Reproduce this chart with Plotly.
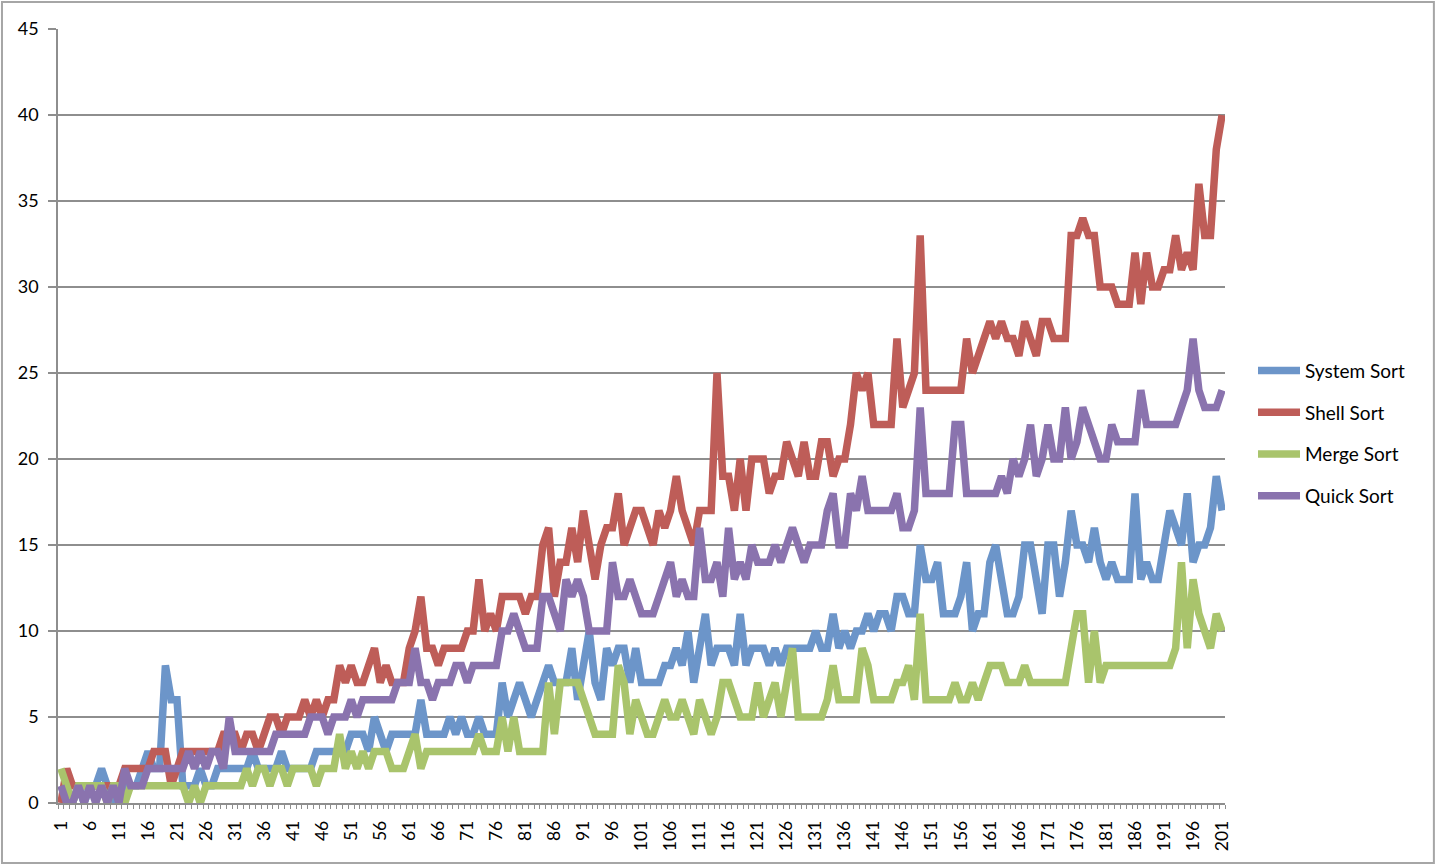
import plotly.graph_objects as go

categories = list(range(1, 202))

system_sort = [
    0, 0, 0, 1, 0, 1, 1, 2, 1, 0,
    0, 1, 1, 1, 2, 3, 2, 2, 8, 6,
    6, 1, 1, 1, 2, 1, 1, 2, 2, 2,
    2, 2, 2, 3, 2, 2, 2, 2, 3, 2,
    2, 2, 2, 2, 3, 3, 3, 3, 3, 3,
    4, 4, 4, 3, 5, 4, 3, 4, 4, 4,
    4, 4, 6, 4, 4, 4, 4, 5, 4, 5,
    4, 4, 5, 4, 4, 4, 7, 5, 6, 7,
    6, 5, 6, 7, 8, 7, 7, 7, 9, 6,
    8, 10, 7, 6, 9, 8, 9, 9, 7, 9,
    7, 7, 7, 7, 8, 8, 9, 8, 10, 7,
    9, 11, 8, 9, 9, 9, 8, 11, 8, 9,
    9, 9, 8, 9, 8, 9, 9, 9, 9, 9,
    10, 9, 9, 11, 9, 10, 9, 10, 10, 11,
    10, 11, 11, 10, 12, 12, 11, 11, 15, 13,
    13, 14, 11, 11, 11, 12, 14, 10, 11, 11,
    14, 15, 13, 11, 11, 12, 15, 15, 13, 11,
    15, 15, 12, 14, 17, 15, 15, 14, 16, 14,
    13, 14, 13, 13, 13, 18, 13, 14, 13, 13,
    15, 17, 16, 15, 18, 14, 15, 15, 16, 19,
    17,
]

shell_sort = [
    0, 2, 1, 1, 1, 1, 1, 1, 1, 1,
    1, 2, 2, 2, 2, 2, 3, 3, 3, 1,
    2, 3, 3, 3, 3, 3, 3, 3, 4, 4,
    4, 3, 4, 4, 3, 4, 5, 5, 4, 5,
    5, 5, 6, 5, 6, 5, 6, 6, 8, 7,
    8, 7, 7, 8, 9, 7, 8, 7, 7, 7,
    9, 10, 12, 9, 9, 8, 9, 9, 9, 9,
    10, 10, 13, 10, 11, 10, 12, 12, 12, 12,
    11, 12, 12, 15, 16, 12, 14, 14, 16, 14,
    17, 15, 13, 15, 16, 16, 18, 15, 16, 17,
    17, 16, 15, 17, 16, 17, 19, 17, 16, 15,
    17, 17, 17, 25, 19, 19, 17, 20, 17, 20,
    20, 20, 18, 19, 19, 21, 20, 19, 21, 19,
    19, 21, 21, 19, 20, 20, 22, 25, 24, 25,
    22, 22, 22, 22, 27, 23, 24, 25, 33, 24,
    24, 24, 24, 24, 24, 24, 27, 25, 26, 27,
    28, 27, 28, 27, 27, 26, 28, 27, 26, 28,
    28, 27, 27, 27, 33, 33, 34, 33, 33, 30,
    30, 30, 29, 29, 29, 32, 29, 32, 30, 30,
    31, 31, 33, 31, 32, 31, 36, 33, 33, 38,
    40,
]

merge_sort = [
    2, 1, 0, 1, 1, 1, 1, 1, 0, 1,
    1, 0, 1, 1, 1, 1, 1, 1, 1, 1,
    1, 1, 0, 1, 0, 1, 1, 1, 1, 1,
    1, 1, 2, 1, 2, 2, 1, 2, 2, 1,
    2, 2, 2, 2, 1, 2, 2, 2, 4, 2,
    3, 2, 3, 2, 3, 3, 3, 2, 2, 2,
    3, 4, 2, 3, 3, 3, 3, 3, 3, 3,
    3, 3, 4, 3, 3, 3, 5, 3, 5, 3,
    3, 3, 3, 3, 7, 4, 7, 7, 7, 7,
    6, 5, 4, 4, 4, 4, 8, 7, 4, 6,
    5, 4, 4, 5, 6, 5, 5, 6, 5, 4,
    6, 5, 4, 5, 7, 7, 6, 5, 5, 5,
    7, 5, 6, 7, 5, 7, 9, 5, 5, 5,
    5, 5, 6, 8, 6, 6, 6, 6, 9, 8,
    6, 6, 6, 6, 7, 7, 8, 6, 11, 6,
    6, 6, 6, 6, 7, 6, 6, 7, 6, 7,
    8, 8, 8, 7, 7, 7, 8, 7, 7, 7,
    7, 7, 7, 7, 9, 11, 11, 7, 10, 7,
    8, 8, 8, 8, 8, 8, 8, 8, 8, 8,
    8, 8, 9, 14, 9, 13, 11, 10, 9, 11,
    10,
]

quick_sort = [
    1, 0, 0, 1, 0, 1, 0, 1, 0, 1,
    0, 2, 1, 1, 1, 2, 2, 2, 2, 2,
    2, 2, 3, 2, 3, 2, 3, 3, 2, 5,
    3, 3, 3, 3, 3, 3, 3, 4, 4, 4,
    4, 4, 4, 5, 5, 5, 4, 5, 5, 5,
    6, 5, 6, 6, 6, 6, 6, 6, 7, 7,
    7, 9, 7, 7, 6, 7, 7, 7, 8, 8,
    7, 8, 8, 8, 8, 8, 10, 10, 11, 10,
    9, 9, 9, 12, 12, 11, 10, 13, 12, 13,
    12, 10, 10, 10, 10, 14, 12, 12, 13, 12,
    11, 11, 11, 12, 13, 14, 12, 13, 12, 12,
    16, 13, 13, 14, 12, 16, 13, 14, 13, 15,
    14, 14, 14, 15, 14, 15, 16, 15, 14, 15,
    15, 15, 17, 18, 15, 15, 18, 17, 19, 17,
    17, 17, 17, 17, 18, 16, 16, 17, 23, 18,
    18, 18, 18, 18, 22, 22, 18, 18, 18, 18,
    18, 18, 19, 18, 20, 19, 20, 22, 19, 20,
    22, 20, 20, 23, 20, 21, 23, 22, 21, 20,
    20, 22, 21, 21, 21, 21, 24, 22, 22, 22,
    22, 22, 22, 23, 24, 27, 24, 23, 23, 23,
    24,
]

series_names = ["System Sort", "Shell Sort", "Merge Sort", "Quick Sort"]
series_values = [system_sort, shell_sort, merge_sort, quick_sort]
series_colors = ["#6C95C9", "#BE5D58", "#A9C46C", "#8A73AE"]

y_ticks = [0, 5, 10, 15, 20, 25, 30, 35, 40, 45]

FONT = "Lato"
GRID = "#8E8E8E"

fig = go.Figure()
for name, vals, color in zip(series_names, series_values, series_colors):
    fig.add_trace(go.Scatter(
        x=categories[:len(vals)], y=vals, mode="lines", name=name,
        legendgroup=name,
        line=dict(color=color, width=7.5),
    ))

fig.update_layout(
    width=1437, height=866,
    margin=dict(l=58, r=212, t=29, b=63),
    paper_bgcolor="white", plot_bgcolor="white",
    font=dict(family=FONT, size=18, color="black"),
    showlegend=True,
    legend=dict(
        x=1.024, y=0.583, xanchor="left", yanchor="top",
        font=dict(family=FONT, size=19, color="black"),
        itemwidth=42, tracegroupgap=14,
        bgcolor="rgba(0,0,0,0)",
    ),
    xaxis=dict(
        range=[0.5, 201.5],
        tickmode="linear", tick0=1, dtick=5,
        tickangle=-90,
        showgrid=False, zeroline=False,
        showline=True, linecolor=GRID, linewidth=1.5,
        ticks="", ticklabelstandoff=9,
        minor=dict(ticks="outside", tick0=0.5, dtick=1, ticklen=4,
                   tickcolor=GRID, tickwidth=1, showgrid=False),
        tickfont=dict(family=FONT, size=17.5, color="black"),
        fixedrange=True,
    ),
    yaxis=dict(
        range=[0, 45],
        tickmode="array", tickvals=y_ticks,
        showgrid=True, gridcolor=GRID, gridwidth=1.5,
        zeroline=False,
        showline=True, linecolor=GRID, linewidth=1.5,
        ticks="outside", ticklen=8, tickcolor=GRID, tickwidth=1.5,
        ticklabelstandoff=6,
        tickfont=dict(family=FONT, size=18, color="black"),
        fixedrange=True,
    ),
    shapes=[dict(
        type="rect", xref="paper", yref="paper",
        x0=-0.048, x1=1.179, y0=-0.0775, y1=1.035,
        line=dict(color="#A6A6A6", width=2), fillcolor="rgba(0,0,0,0)",
        layer="below",
    )],
)

fig.write_html(
    "out.html",
    config={"displayModeBar": False},
    post_script="document.body.style.margin='0';document.body.style.overflow='hidden';",
)
